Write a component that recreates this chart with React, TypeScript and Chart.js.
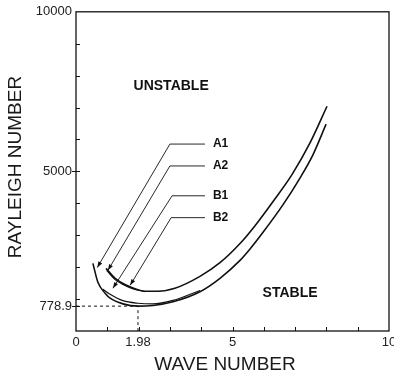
import React, { useEffect, useRef } from "react";
import { Chart, registerables } from "chart.js";

Chart.register(...registerables);

// ---- data (wave number k, Rayleigh number Ra) ----
const waveA1 = [0.54, 0.7, 0.93, 1.09, 1.5, 1.98, 2.46, 3.1, 3.96, 4.6, 5.24, 5.56, 5.97, 6.61, 7.16, 7.57, 7.99];
const rayleighA1 = [2118, 1526, 1184, 1028, 850, 778.9, 800, 915, 1230, 1650, 2212, 2570, 3084, 3950, 4800, 5520, 6479];

const waveB1 = [0.86, 1.09, 1.5, 1.98, 2.46, 3.1, 3.96];
const rayleighB1 = [1310, 1150, 950, 870, 850, 960, 1270];

const waveA2 = [0.96, 1.25, 1.76, 2.2, 2.62, 3.16, 3.96, 4.6, 5.24, 5.72, 6.29, 6.9, 7.48, 8.02];
const rayleighA2 = [1962, 1651, 1371, 1246, 1246, 1340, 1713, 2140, 2741, 3300, 4050, 4900, 5900, 7040];

const waveB2 = [0.98, 1.25, 1.5, 1.76, 2.2];
const rayleighB2 = [1900, 1610, 1460, 1345, 1236];

// critical point
const criticalWave = 1.98;
const criticalRayleigh = 778.9;

// axis ticks
const xTickValues = [0, 1.98, 5, 10];
const xTickLabels = ["0", "1.98", "5", "10"];
const yTickValues = [778.9, 5000, 10000];
const yTickLabels = ["778.9", "5000", "10000"];
const xMinorTicks = [1, 2, 3, 4, 5, 6, 7, 8, 9];
const yMinorTicks = [1000, 2000, 3000, 4000, 5000, 6000, 7000, 8000, 9000];

// leader lines for curve labels
const curveLabels = ["A1", "A2", "B1", "B2"];
const leaderEndWave = [4.12, 4.12, 4.12, 4.12];
const leaderElbowWave = [3.0, 3.0, 3.07, 3.04];
const leaderRayleigh = [5856, 5171, 4236, 3551];
const leaderTipWave = [0.68, 1.02, 1.18, 1.73];
const leaderTipRayleigh = [1990, 1900, 1340, 1433];

// region labels
const regionLabels = ["UNSTABLE", "STABLE"];
const regionWave = [3.04, 6.84];
const regionRayleigh = [7663, 1184];

const FONT = '"Liberation Sans", Arial, sans-serif';
const INK = "#111";

const pts = (xs: number[], ys: number[]) => xs.map((x, i) => ({ x, y: ys[i] }));

const curve = (data: { x: number; y: number }[], width = 1.6) => ({
  type: "line" as const,
  data,
  borderColor: INK,
  borderWidth: width,
  pointRadius: 0,
  cubicInterpolationMode: "monotone" as const,
  fill: false,
});

const overlay = {
  id: "overlay",
  afterDatasetsDraw(chart: any) {
    const { ctx, chartArea: a, scales } = chart;
    const xs = scales.x;
    const ys = scales.y;
    ctx.save();
    ctx.strokeStyle = INK;
    ctx.fillStyle = INK;
    // frame
    ctx.lineWidth = 1.3;
    ctx.strokeRect(a.left, a.top, a.right - a.left, a.bottom - a.top);
    // ticks
    ctx.lineWidth = 1;
    ctx.beginPath();
    xMinorTicks.forEach((v) => {
      const px = Math.round(xs.getPixelForValue(v)) + 0.5;
      ctx.moveTo(px, a.bottom);
      ctx.lineTo(px, a.bottom - 4);
    });
    yMinorTicks.forEach((v) => {
      const py = Math.round(ys.getPixelForValue(v)) + 0.5;
      ctx.moveTo(a.left, py);
      ctx.lineTo(a.left + 4, py);
    });
    [5000, criticalRayleigh].forEach((v) => {
      const py = Math.round(ys.getPixelForValue(v)) + 0.5;
      ctx.moveTo(a.left - 4, py);
      ctx.lineTo(a.left + 4, py);
    });
    ctx.stroke();
    // arrowheads
    curveLabels.forEach((_, i) => {
      const tx = xs.getPixelForValue(leaderTipWave[i]);
      const ty = ys.getPixelForValue(leaderTipRayleigh[i]);
      const ex = xs.getPixelForValue(leaderElbowWave[i]);
      const ey = ys.getPixelForValue(leaderRayleigh[i]);
      const ang = Math.atan2(ty - ey, tx - ex);
      const L = 6, W = 2.2;
      ctx.beginPath();
      ctx.moveTo(tx, ty);
      ctx.lineTo(tx - L * Math.cos(ang) + W * Math.sin(ang), ty - L * Math.sin(ang) - W * Math.cos(ang));
      ctx.lineTo(tx - L * Math.cos(ang) - W * Math.sin(ang), ty - L * Math.sin(ang) + W * Math.cos(ang));
      ctx.closePath();
      ctx.fill();
    });
    // curve labels
    ctx.font = `bold 12px ${FONT}`;
    ctx.textAlign = "left";
    ctx.textBaseline = "middle";
    curveLabels.forEach((t, i) => {
      const px = xs.getPixelForValue(leaderEndWave[i]) + 8;
      const py = ys.getPixelForValue(leaderRayleigh[i]);
      ctx.fillText(t, px, py);
    });
    // region labels
    ctx.font = `bold 14px ${FONT}`;
    ctx.textAlign = "center";
    regionLabels.forEach((t, i) => {
      ctx.fillText(t, xs.getPixelForValue(regionWave[i]), ys.getPixelForValue(regionRayleigh[i]));
    });
    // axis titles
    ctx.font = `19px ${FONT}`;
    ctx.fillStyle = "#1a1a1a";
    ctx.textAlign = "center";
    ctx.textBaseline = "middle";
    ctx.fillText("WAVE NUMBER", 225, 365);
    ctx.translate(16, 167);
    ctx.rotate(-Math.PI / 2);
    ctx.fillText("RAYLEIGH NUMBER", 0, 0);
    ctx.restore();
  },
};

export default function App() {
  const ref = useRef<HTMLCanvasElement | null>(null);
  useEffect(() => {
    document.body.style.margin = "0";
    const canvas = ref.current!;
    const datasets: any[] = [
      curve(pts(waveA1, rayleighA1)),
      curve(pts(waveB1, rayleighB1), 1.2),
      curve(pts(waveA2, rayleighA2)),
      curve(pts(waveB2, rayleighB2), 1.2),
      {
        type: "line",
        data: [
          { x: 0, y: criticalRayleigh },
          { x: criticalWave, y: criticalRayleigh },
          { x: criticalWave, y: 0 },
        ],
        borderColor: INK,
        borderWidth: 1,
        borderDash: [3, 3],
        pointRadius: 0,
        tension: 0,
      },
      ...curveLabels.map((_, i) => ({
        type: "line",
        data: [
          { x: leaderEndWave[i], y: leaderRayleigh[i] },
          { x: leaderElbowWave[i], y: leaderRayleigh[i] },
          { x: leaderTipWave[i], y: leaderTipRayleigh[i] },
        ],
        borderColor: INK,
        borderWidth: 0.9,
        pointRadius: 0,
        tension: 0,
      })),
    ];
    const chart = new Chart(canvas, {
      type: "line",
      data: { datasets },
      options: {
        animation: false,
        responsive: false,
        parsing: false as any,
        layout: { padding: { top: 10, right: 5, left: 0, bottom: 0 } },
        plugins: { legend: { display: false }, tooltip: { enabled: false } },
        scales: {
          x: {
            type: "linear",
            min: 0,
            max: 10,
            grid: { display: false, drawTicks: false },
            border: { display: false },
            afterBuildTicks: (s: any) => {
              s.ticks = xTickValues.map((value) => ({ value }));
            },
            afterFit: (s: any) => {
              s.height = 45;
              s.paddingRight = 0;
              s.paddingLeft = 0;
            },
            ticks: {
              autoSkip: false,
              maxRotation: 0,
              padding: 4,
              color: "#222",
              font: { family: FONT, size: 13 },
              callback: (_v: any, i: number) => xTickLabels[i],
            },
          },
          y: {
            type: "linear",
            min: 0,
            max: 10000,
            grid: { display: false, drawTicks: false },
            border: { display: false },
            afterBuildTicks: (s: any) => {
              s.ticks = yTickValues.map((value) => ({ value }));
            },
            afterFit: (s: any) => {
              s.width = 76;
            },
            ticks: {
              autoSkip: false,
              padding: 4,
              color: "#222",
              font: { family: FONT, size: 13 },
              callback: (_v: any, i: number) => yTickLabels[i],
            },
          },
        },
      },
      plugins: [overlay],
    });
    return () => chart.destroy();
  }, []);
  return (
    <div style={{ width: 394, height: 376, background: "#fff" }}>
      <canvas ref={ref} width={394} height={376} style={{ display: "block" }} />
    </div>
  );
}
